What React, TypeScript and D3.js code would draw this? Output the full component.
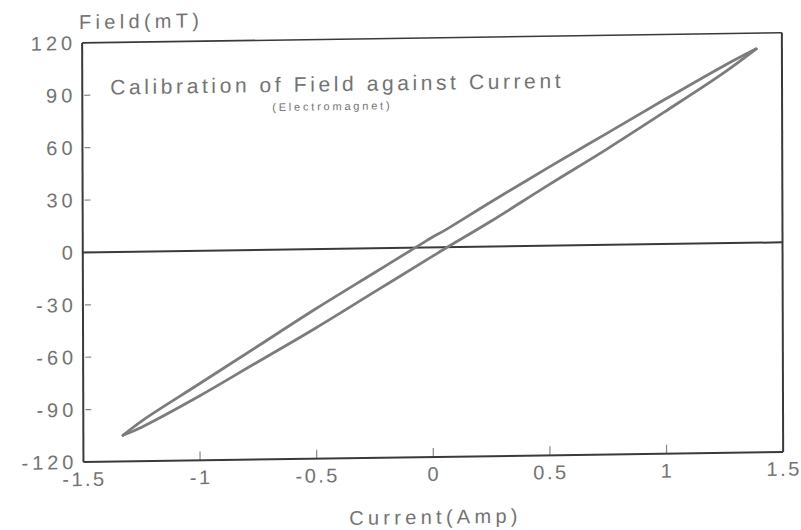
import React from 'react';
import * as d3 from 'd3';

// Axis ticks
const xTicks = [-1.5, -1, -0.5, 0, 0.5, 1, 1.5];
const xTickLabels = ['-1.5', '-1', '-0.5', '0', '0.5', '1', '1.5'];
const yTicks = [120, 90, 60, 30, 0, -30, -60, -90, -120];
const yTickLabels = ['120', '90', '60', '30', '0', '-30', '-60', '-90', '-120'];

// Descending branch (current swept from +max to -max)
const fallingCurrent = [1.39, 1.25, 1.0, 0.75, 0.5, 0.25, 0.05, 0.0, -0.05, -0.25, -0.5, -0.75, -1.0, -1.25, -1.33];
const fallingField = [111, 101.5, 83, 64, 45, 25.5, 9.5, 6, 2, -14, -34, -55, -76, -97, -105];

// Ascending branch (current swept from -max to +max)
const risingCurrent = [-1.33, -1.25, -1.0, -0.75, -0.5, -0.25, 0.0, 0.05, 0.25, 0.5, 0.75, 1.0, 1.25, 1.39];
const risingField = [-105, -100.5, -83, -64, -45, -25, -5, -1, 14.5, 35, 55, 76, 97.5, 111];

const W = 801;
const H = 530;
const PW = 700;
const PH = 420;

const FONT = '"Liberation Sans", Arial, sans-serif';
const TEXT = '#737373';
const AXIS = '#3a3a3a';
const CURVE = '#7c7c7c';

export default function App() {
  const x = d3.scaleLinear().domain([-1.5, 1.5]).range([0, PW]);
  const y = d3.scaleLinear().domain([-120, 120]).range([PH, 0]);

  const path = d3
    .line<[number, number]>()
    .x((d) => x(d[0]))
    .y((d) => y(d[1]))
    .curve(d3.curveCatmullRom);

  const falling: [number, number][] = fallingCurrent.map((c, i) => [c, fallingField[i]]);
  const rising: [number, number][] = risingCurrent.map((c, i) => [c, risingField[i]]);

  return (
    <svg
      width={W}
      height={H}
      viewBox={`0 0 ${W} ${H}`}
      style={{ position: 'absolute', left: 0, top: 0, background: '#fff' }}
    >
      <rect width={W} height={H} fill="#fff" />
      {/* the whole plot sits on a slightly sheared sheet */}
      <g transform="matrix(0.9996,-0.0145,0.0031,0.998,82.14,42.92)">
        {/* frame */}
        <g stroke={AXIS} strokeWidth={2} fill="none">
          <line x1={0} y1={0} x2={0} y2={PH} />
          <line x1={0} y1={PH} x2={PW} y2={PH} />
          <line x1={0} y1={0} x2={PW} y2={0} strokeWidth={1.6} />
          <line x1={PW} y1={0} x2={PW} y2={PH} />
          <line x1={0} y1={y(0)} x2={PW} y2={y(0)} />
        </g>

        {/* ticks */}
        <g stroke={AXIS} strokeWidth={1.2} opacity={0.6}>
          {yTicks.slice(1, -1).map((t) => (
            <line key={`yt${t}`} x1={2} x2={8} y1={y(t)} y2={y(t)} />
          ))}
          {xTicks.slice(1, -1).map((t) => (
            <line key={`xt${t}`} x1={x(t)} x2={x(t)} y1={PH} y2={PH - 9} />
          ))}
        </g>

        {/* tick labels */}
        <g fill={TEXT} fontFamily={FONT} fontSize={20}>
          {yTicks.map((t, i) => (
            <text key={`yl${t}`} x={-6} y={y(t) + 7} textAnchor="end" letterSpacing={4}>
              {yTickLabels[i]}
            </text>
          ))}
          {xTicks.map((t, i) => (
            <text key={`xl${t}`} x={x(t) + 1} y={PH + 24} textAnchor="middle" letterSpacing={2.5}>
              {xTickLabels[i]}
            </text>
          ))}
        </g>

        {/* axis titles */}
        <g fill={TEXT} fontFamily={FONT} fontSize={20} letterSpacing={4.3}>
          <text x={-3} y={-14}>Field(mT)</text>
          <text x={x(0) + 2} y={PH + 67} textAnchor="middle">
            Current(Amp)
          </text>
        </g>

        {/* chart title */}
        <text x={28} y={52} fill={TEXT} fontFamily={FONT} fontSize={21} letterSpacing={3.6}>
          Calibration of Field against Current
        </text>
        <text x={190} y={71} fill={TEXT} fontFamily={FONT} fontSize={11} letterSpacing={2.8}>
          (Electromagnet)
        </text>

        {/* hysteresis loop */}
        <g fill="none" stroke={CURVE} strokeWidth={2.8} strokeLinecap="round" strokeLinejoin="round">
          <path d={path(falling) || ''} />
          <path d={path(rising) || ''} />
        </g>
      </g>
    </svg>
  );
}
